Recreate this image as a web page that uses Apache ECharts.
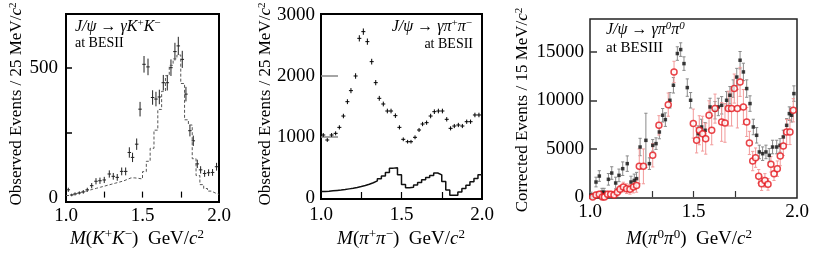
<!DOCTYPE html>
<html><head><meta charset="utf-8">
<script src="https://cdn.jsdelivr.net/npm/echarts@6/dist/echarts.min.js"></script>
<style>html,body{margin:0;padding:0;background:#fff}#c{width:830px;height:265px}</style>
</head><body><div id="c"></div><script>
// ---------- Panel 1 : J/psi -> gamma K+ K- (BESII) ----------
const kkX   = [1.015,1.037,1.059,1.087,1.113,1.139,1.168,1.196,1.222,1.25,1.283,1.309,1.335,1.364,1.39,1.414,1.435,1.462,1.484,1.51,1.536,1.566,1.588,1.61,1.636,1.662,1.686,1.712,1.734,1.76,1.784,1.81,1.832,1.858,1.88,1.906,1.932,1.958,1.984];
const kkY   = [30,10,14,18,22,30,46,63,65,68,91,82,78,101,101,174,155,206,341,514,504,386,380,388,443,443,501,563,585,533,399,258,219,130,107,93,96,97,119];
const kkErr = [8,5,6,6,7,8,10,12,12,12,14,13,13,15,15,20,18,22,28,32,32,28,28,28,30,30,32,34,35,33,28,22,20,16,14,13,13,13,15];
const kkBinStart = 1.0, kkBinWidth = 0.025;
const kkMc  = [8,12,16,20,24,28,32,36,40,44,48,52,56,60,64,70,76,76,74,72,100,140,190,260,340,410,470,510,535,550,440,300,280,150,85,50,35,25,18,12];
const kkXTicks = [1.0,1.5,2.0], kkYTicks = [0,500];

// ---------- Panel 2 : J/psi -> gamma pi+ pi- (BESII) ----------
const ppX   = [1.014,1.039,1.066,1.091,1.114,1.139,1.164,1.186,1.215,1.238,1.263,1.288,1.315,1.34,1.362,1.387,1.412,1.435,1.462,1.487,1.511,1.538,1.559,1.584,1.609,1.631,1.656,1.681,1.704,1.729,1.754,1.781,1.805,1.828,1.853,1.878,1.905,1.929,1.956,1.981];
const ppY   = [1033,951,1033,1060,1158,1344,1579,1760,2000,2617,2727,2563,2235,1891,1634,1541,1426,1426,1350,1158,962,923,923,995,1115,1213,1235,1344,1415,1426,1426,1290,1142,1180,1197,1180,1251,1251,1361,1361];
const ppErr = [32,31,32,33,34,37,40,42,45,51,52,51,47,43,40,39,38,38,37,34,31,30,30,32,33,35,35,37,38,38,38,36,34,34,35,34,35,35,37,37];
const ppBinStart = 1.0, ppBinWidth = 0.025;
const ppHist = [105,110,118,125,132,140,150,160,172,188,205,225,250,280,315,360,420,490,495,380,220,170,175,215,255,300,335,370,410,380,270,130,45,45,100,155,210,265,320,380];
const ppXTicks = [1.0,1.5,2.0], ppYTicks = [0,1000,2000,3000];

// ---------- Panel 3 : J/psi -> gamma pi0 pi0 (BESIII) ----------
const blkX   = [1.005,1.029,1.045,1.058,1.068,1.089,1.105,1.124,1.14,1.158,1.18,1.198,1.214,1.225,1.242,1.27,1.287,1.303,1.319,1.335,1.351,1.364,1.386,1.403,1.422,1.438,1.454,1.47,1.486,1.523,1.539,1.556,1.58,1.604,1.62,1.636,1.66,1.676,1.692,1.709,1.725,1.741,1.757,1.773,1.789,1.805,1.818,1.834,1.85,1.866,1.882,1.902,1.918,1.934,1.95,1.963,1.974,1.985];
const blkY   = [200,1550,2170,500,500,1830,2480,1450,2240,2930,3450,1550,1720,1900,5170,5860,3450,5340,5520,6720,8450,8000,10000,11550,14830,15240,13790,11310,10000,6550,7240,6900,9310,8970,9310,9480,10000,10520,11210,12400,14140,12930,11210,9660,7240,6380,4660,4480,4660,4310,5170,5170,5340,6210,7410,8620,8450,10690];
const blkErr = [300,500,550,400,400,600,650,600,650,700,800,600,650,650,900,2800,600,600,600,700,700,700,800,800,700,700,700,900,800,800,800,800,900,900,900,900,900,900,900,900,900,900,900,800,800,800,700,700,700,700,700,700,700,700,700,700,700,800];
const redX   = [1.013,1.029,1.045,1.06,1.07,1.085,1.1,1.116,1.132,1.145,1.161,1.177,1.193,1.21,1.225,1.238,1.258,1.303,1.333,1.378,1.406,1.499,1.515,1.528,1.544,1.559,1.575,1.588,1.604,1.636,1.652,1.668,1.684,1.697,1.712,1.725,1.741,1.757,1.77,1.786,1.8,1.815,1.829,1.845,1.86,1.874,1.889,1.905,1.919,1.934,1.95,1.966,1.982];
const redY   = [0,200,300,0,0,300,300,200,500,800,1030,860,800,1030,1200,3170,3170,4310,7410,9550,12930,7590,5860,6900,6550,6030,8450,6900,9140,7760,7660,9140,9140,11210,9140,11900,9310,7760,5590,3720,4070,2140,1380,1720,1310,3380,2410,2930,4240,5280,6720,6720,8970];
const redErr = [300,300,300,300,300,300,300,300,400,400,500,500,500,600,700,1800,1800,1200,1000,1200,1100,1500,1300,1500,1800,1600,1500,1500,1500,2000,2000,1800,1800,1500,2000,1500,1800,1500,1200,1000,1000,700,700,700,600,800,700,800,1000,1000,1300,1300,1200];
const p3XTicks = [1.0,1.5,2.0], p3YTicks = [0,5000,10000,15000];

// ---------- build ----------
const SERIF = "'Liberation Serif','Times New Roman',serif";
const chart = echarts.init(document.getElementById('c'), null, {renderer:'canvas'});

function histData(start, w, vals){
  const d = vals.map((v,i)=>[start + i*w, v]);
  d.push([start + vals.length*w, vals[vals.length-1]]);
  return d;
}
function crossItems(xs, ys, errs, hw){ return xs.map((x,i)=>[x, ys[i], hw, errs[i]]); }

function crossRender(color){
  return function(params, api){
    const x=api.value(0), y=api.value(1), ex=api.value(2), ey=api.value(3);
    const c=api.coord([x,y]), l=api.coord([x-ex,y]), r=api.coord([x+ex,y]);
    const t=api.coord([x,y+ey]), b=api.coord([x,y-ey]);
    return {type:'group', children:[
      {type:'line', shape:{x1:l[0],y1:c[1],x2:r[0],y2:c[1]}, style:{stroke:color,lineWidth:1}},
      {type:'line', shape:{x1:c[0],y1:t[1],x2:c[0],y2:b[1]}, style:{stroke:color,lineWidth:1}}
    ]};
  };
}
function errRender(color){
  return function(params, api){
    const x=api.value(0), y=api.value(1), e=api.value(2);
    const t=api.coord([x,y+e]), b=api.coord([x,y-e]);
    const cap=1.6;
    return {type:'group', children:[
      {type:'line', shape:{x1:t[0],y1:t[1],x2:b[0],y2:b[1]}, style:{stroke:color,lineWidth:1}},
      {type:'line', shape:{x1:t[0]-cap,y1:t[1],x2:t[0]+cap,y2:t[1]}, style:{stroke:color,lineWidth:1}},
      {type:'line', shape:{x1:b[0]-cap,y1:b[1],x2:b[0]+cap,y2:b[1]}, style:{stroke:color,lineWidth:1}}
    ]};
  };
}

function xAxisCfg(gi, tickVals, tickColor, labelVals, margin){
  return {type:'value', gridIndex:gi, min:1.0, max:2.0,
    axisLine:{show:false}, splitLine:{show:false},
    axisTick:{show:true, inside:true, length:6, customValues:tickVals, lineStyle:{color:tickColor,width:1.2}},
    axisLabel:{customValues:labelVals, formatter:v=>Number(v).toFixed(1), fontFamily:SERIF, fontSize:19, color:'#000', margin:margin}};
}
function yAxisCfg(gi, min, max, tickVals, tickLen, tickColor, labelVals, margin){
  return {type:'value', gridIndex:gi, min:min, max:max,
    axisLine:{show:false}, splitLine:{show:false},
    axisTick:{show:true, inside:true, length:tickLen, customValues:tickVals, lineStyle:{color:tickColor,width:1.5}},
    axisLabel:{customValues:labelVals, formatter:v=>String(v), fontFamily:SERIF, fontSize:19, color:'#000', margin:margin}};
}

const rich = {
  i:{fontFamily:SERIF, fontStyle:'italic', fontSize:16, color:'#000'},
  n:{fontFamily:SERIF, fontSize:16, color:'#000'},
  s:{fontFamily:SERIF, fontSize:11, color:'#000', padding:[0,0,7,0]},
  si:{fontFamily:SERIF, fontStyle:'italic', fontSize:11, color:'#000', padding:[0,0,7,0]}
};
const richT = {
  i:{fontFamily:SERIF, fontStyle:'italic', fontSize:19, color:'#000'},
  n:{fontFamily:SERIF, fontSize:19, color:'#000'},
  s:{fontFamily:SERIF, fontSize:13, color:'#000', padding:[0,0,9,0]}
};
const richY = {
  n:{fontFamily:SERIF, fontSize:17, color:'#000'},
  i:{fontFamily:SERIF, fontStyle:'italic', fontSize:17, color:'#000'},
  s:{fontFamily:SERIF, fontSize:11, color:'#000', padding:[0,0,8,0]}
};
function txt(x,y,text,r,align,rot){
  return {type:'text', x:x, y:y, rotation:rot||0, silent:true,
    style:{text:text, rich:r, align:align||'left', verticalAlign:'middle'}};
}

const option = {
  animation:false,
  backgroundColor:'#fff',
  grid:[
    {left:66, top:14, width:153, height:188, show:true, borderColor:'#000', borderWidth:2},
    {left:321, top:14, width:161, height:185, show:true, borderColor:'#000', borderWidth:2},
    {left:590, top:19, width:207, height:179, show:true, borderColor:'#222', borderWidth:1.5}
  ],
  xAxis:[
    xAxisCfg(0,[1.25,1.5,1.75],'#000',kkXTicks,5),
    xAxisCfg(1,[1.25,1.5,1.75],'#000',ppXTicks,7),
    xAxisCfg(2,[1.3,1.5,1.7],'#333',p3XTicks,5)
  ],
  yAxis:[
    yAxisCfg(0,-17,708,[250,500],6,'#000',kkYTicks,8),
    yAxisCfg(1,-16,3016,[1000,2000],17,'#888',ppYTicks,6),
    yAxisCfg(2,-100,18400,[5000,10000,15000],7,'#333',p3YTicks,6)
  ],
  series:[
    {type:'line', xAxisIndex:0, yAxisIndex:0, step:'end', symbol:'none',
      data:histData(kkBinStart,kkBinWidth,kkMc), lineStyle:{color:'#555',width:1,type:[3,2]}},
    {type:'custom', xAxisIndex:0, yAxisIndex:0, clip:true, encode:{x:0,y:1},
      renderItem:crossRender('#222'), data:crossItems(kkX,kkY,kkErr,0.0115)},
    {type:'line', xAxisIndex:1, yAxisIndex:1, step:'end', symbol:'none',
      data:histData(ppBinStart,ppBinWidth,ppHist), lineStyle:{color:'#111',width:1.5}},
    {type:'custom', xAxisIndex:1, yAxisIndex:1, clip:true, encode:{x:0,y:1},
      renderItem:crossRender('#000'), data:crossItems(ppX,ppY,ppErr,0.0125)},
    {type:'custom', xAxisIndex:2, yAxisIndex:2, clip:true, encode:{x:0,y:1},
      renderItem:errRender('#8a8a8a'), data:blkX.map((x,i)=>[x,blkY[i],blkErr[i]])},
    {type:'custom', xAxisIndex:2, yAxisIndex:2, clip:true, encode:{x:0,y:1},
      renderItem:errRender('#f29a9a'), data:redX.map((x,i)=>[x,redY[i],redErr[i]])},
    {type:'scatter', xAxisIndex:2, yAxisIndex:2, symbol:'rect', symbolSize:3.5,
      itemStyle:{color:'#111'}, data:blkX.map((x,i)=>[x,blkY[i]])},
    {type:'scatter', xAxisIndex:2, yAxisIndex:2, symbol:'circle', symbolSize:6,
      itemStyle:{color:'#fff', borderColor:'#e3151b', borderWidth:1.5}, data:redX.map((x,i)=>[x,redY[i]])}
  ],
  graphic:[
    txt(75,27,'{i|J/ψ}{n| → }{i|γK}{s|+}{i|K}{s|−}',rich),
    txt(75,43,'{n|at BESII}',{n:{fontFamily:SERIF,fontSize:14,color:'#000'}}),
    txt(472,27,'{i|J/ψ}{n| → }{i|γπ}{s|+}{i|π}{s|−}',rich,'right'),
    txt(473,44,'{n|at BESII}',{n:{fontFamily:SERIF,fontSize:14,color:'#000'}},'right'),
    txt(606,30,'{i|J/ψ}{n| → }{i|γπ}{si|0}{i|π}{si|0}',rich),
    txt(606,48,'{n|at BESIII}',{n:{fontFamily:SERIF,fontSize:15,color:'#000'}}),
    txt(17,104,'{n|Observed Events / 25 MeV/}{i|c}{s|2}',richY,'center',Math.PI/2),
    txt(266,104,'{n|Observed Events / 25 MeV/}{i|c}{s|2}',richY,'center',Math.PI/2),
    txt(523,110,'{n|Corrected Events / 15 MeV/}{i|c}{s|2}',richY,'center',Math.PI/2),
    txt(137,239,'{i|M}{n|(}{i|K}{s|+}{i|K}{s|−}{n|)  GeV/}{i|c}{s|2}',richT,'center'),
    txt(401,239,'{i|M}{n|(}{i|π}{s|+}{i|π}{s|−}{n|)  GeV/}{i|c}{s|2}',richT,'center'),
    txt(689,239,'{i|M}{n|(}{i|π}{s|0}{i|π}{s|0}{n|)  GeV/}{i|c}{s|2}',richT,'center')
  ]
};
chart.setOption(option);
</script></body></html>
